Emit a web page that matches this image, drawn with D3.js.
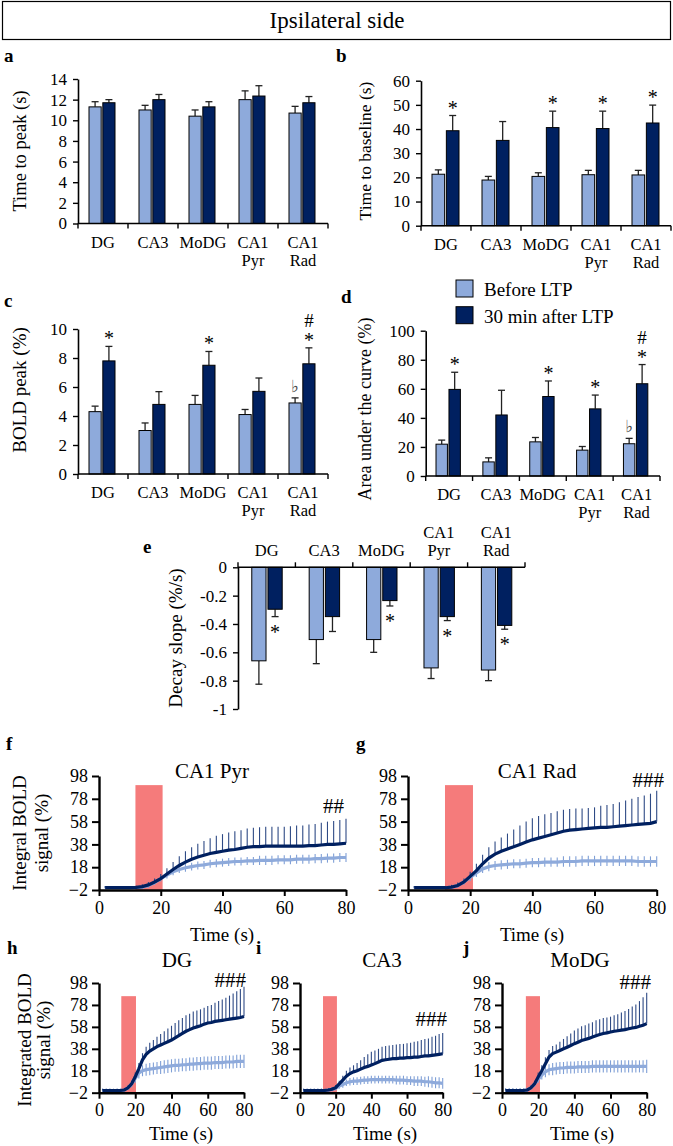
<!DOCTYPE html>
<html><head><meta charset="utf-8">
<script src="https://cdn.jsdelivr.net/npm/d3@7"></script>
<style>
body{margin:0;background:#fff}
svg{display:block}
text{font-family:"Liberation Serif","Times New Roman",serif;fill:#000}
</style>
</head><body>
<svg id="c" width="673" height="1146"></svg>
<script>
// ---------- DATA ----------
const categories = ["DG","CA3","MoDG","CA1 Pyr","CA1 Rad"];
const series = ["Before LTP","30 min after LTP"];

// a: time to peak (s)
const peakTimeBefore = [11.3,11.0,10.4,12.0,10.7];
const peakTimeBeforeErr = [0.5,0.45,0.6,0.85,0.65];
const peakTimeAfter = [11.7,12.0,11.3,12.35,11.7];
const peakTimeAfterErr = [0.3,0.5,0.5,1.0,0.6];
const peakTimeTicks = [0,2,4,6,8,10,12,14];

// b: time to baseline (s)
const baselineBefore = [21.3,18.9,20.4,21.1,21.0];
const baselineBeforeErr = [1.8,1.5,1.5,1.8,1.9];
const baselineAfter = [39.3,35.3,40.6,40.2,42.5];
const baselineAfterErr = [6.3,7.8,6.8,7.2,7.4];
const baselineTicks = [0,10,20,30,40,50,60];
const baselineStars = ["*","","*","*","*"];

// c: BOLD peak (%)
const boldPeakBefore = [4.3,3.0,4.8,4.1,4.9];
const boldPeakBeforeErr = [0.38,0.52,0.62,0.35,0.35];
const boldPeakAfter = [7.8,4.8,7.5,5.7,7.6];
const boldPeakAfterErr = [1.0,0.88,0.95,0.92,1.1];
const boldPeakTicks = [0,2,4,6,8,10];
const boldPeakStars = ["*","","*","","*"];
const boldPeakHash = ["","","","","#"];
const boldPeakFlat = ["","","","","\u266D"];

// d: area under the curve (%)
const aucBefore = [21.9,9.7,23.5,17.8,22.2];
const aucBeforeErr = [2.8,2.8,3.0,2.5,3.7];
const aucAfter = [59.6,42.0,54.7,46.2,63.5];
const aucAfterErr = [11.8,17.0,10.7,9.5,13.2];
const aucTicks = [0,20,40,60,80,100];
const aucStars = ["*","","*","*","*"];
const aucHash = ["","","","","#"];
const aucFlat = ["","","","","\u266D"];

// e: decay slope (%/s)
const decayBefore = [-0.66,-0.51,-0.51,-0.71,-0.725];
const decayBeforeErr = [0.165,0.17,0.09,0.075,0.075];
const decayAfter = [-0.296,-0.348,-0.235,-0.348,-0.41];
const decayAfterErr = [0.052,0.105,0.038,0.028,0.027];
const decayTicks = [0,-0.2,-0.4,-0.6,-0.8,-1];
const decayStars = ["*","","*","*","*"];

// time courses
const time = [2,4,6,8,10,12,14,16,18,20,22,24,26,28,30,32,34,36,38,40,42,44,46,48,50,52,54,56,58,60,62,64,66,68,70,72,74,76,78,80];
const timeTicks = [0,20,40,60,80];
const signalTicks = [-2,18,38,58,78,98];

const pyrAfter = [0,0,0,0,0,0.3,1,2.5,5,8,12,16,19.5,22.5,25,27,28.5,30,31,32,33,33.5,34.5,35.5,36,36,36.5,36.5,36.5,36.5,36.5,36.5,36.5,37,37,37.5,38,38,38.5,39];
const pyrAfterErr = [1.5,1.5,1.5,1.5,1.5,1.5,2,2.5,3,4,5,6.5,8,9.5,10.5,11.5,12.5,13.5,14.5,15,15.5,16,16,16.5,16.5,17,17,17,17,17,17.5,18,18,18.5,19,19.5,20,20.5,21,21.5];
const pyrBefore = [0,0,0,0,0,0,0.5,2,4.5,8,11,14,16,17.5,18.5,19.5,20,21,21.5,22,22.5,23,23,23.5,23.5,24,24,24,24.5,24.5,24.5,25,25,25,25.5,25.5,26,26,26.5,26.5];
const pyrBeforeErr = [1,1,1,1,1,1,1.5,2,2,2.5,3,3,3,3.5,3.5,3.5,3.5,3.5,3.5,3.5,3.5,3.5,3.5,3.5,3.5,4,4,4,4,4,4,4,4,4,4,4,4,4,4,4];

const radAfter = [0,0,0,0,0,0,0.5,2,5,10,15,21,26,29.5,32,34,36,38,40,42,43.5,45,46.5,48,49.5,50.5,51,51.5,52,52.5,53,53,53.5,54,54.5,55,55.5,56,56.5,58];
const radAfterErr = [1.5,1.5,1.5,1.5,1.5,1.5,2,2.5,3,4,6,8,9.5,11,12,13.5,15,16.5,18,19,19.5,19.5,19,19,19,18.5,18.5,18,18,18,19,19.5,20,21,22,23,24,25,26,27];
const radBefore = [0,0,0,0,0,0,0.5,2,5,9,13,16.5,18.5,19.5,20,20.5,21,21,21.5,22,22,22.5,22.5,22.5,23,23,23,23.5,23.5,23.5,23.5,23.5,23.5,23.5,23.5,23.5,23,23,23,23];
const radBeforeErr = [1,1,1,1,1,1,1.5,2,2.5,3,3.5,3.5,4,4,4,4,4,4,4,4,4,4,4,4,4.5,4.5,4.5,4.5,4.5,4.5,4.5,4.5,4.5,4.5,4.5,4.5,4.5,4.5,4.5,4.5];

const dgAfter = [0,0,0,0,0,0,0.5,2.5,6,12.5,20,28,33,36,38,40,41.5,43,44.5,46,48,50,52,54,55.5,57,58,59,60.5,61.5,62,63,63.5,64,64.5,65,65.5,66,66.5,67.5];
const dgAfterErr = [1.5,1.5,1.5,1.5,1.5,1.5,1.5,2,3,4,5,6,7,7.5,8,9,10,11,12,13,13.5,14,14,14.5,14.5,15,15,15,15,15.5,16,17,18,19,20,21.5,23,24.5,26,27];
const dgBefore = [0,0,0,0,0,0,0.5,2.5,6,11,16,18,19,19.5,20,20.5,21,21.5,22,22.5,23,23,23.5,23.5,24,24,24.5,24.5,25,25,25,25.5,25.5,25.5,26,26,26,26.5,26.5,26.5];
const dgBeforeErr = [1.5,1.5,1.5,1.5,1.5,1.5,1.5,2,3,4,5,5,5.5,5.5,5.5,5.5,6,6,6,6,6,6,6,6,6,6,6,6,6,6,6,6,6,6,6,6,6,6,6,6];

const ca3After = [0,0,0,0,0,0,0,0.5,1.2,2.6,6,9.5,13,15.5,17,18,19.5,21,22,23.3,24.5,26,27.5,28,28.5,29,29,29.5,29.5,30,30,30.5,30.5,31,31.5,31.5,32,32.5,33,33.5];
const ca3AfterErr = [1.5,1.5,1.5,1.5,1.5,1.5,1.5,1.5,2,2.5,3,4,5,5.5,6,7,8,9.5,11,12,12,12,12.5,12.5,12.5,12.5,13,13,13,13,13.5,14,14.5,15,15.5,16,17,17.5,18.5,19];
const ca3Before = [0,0,0,0,0,0,0,0.5,1,2,4,5.5,7,8,8.5,8.5,9,9.5,9.5,10,10,10,10,10,10,10,9.5,9.5,9.5,9,9,8.5,8.5,8.5,8,8,7.5,7,7,6.5];
const ca3BeforeErr = [1.5,1.5,1.5,1.5,1.5,1.5,1.5,1.5,2,2,2.5,3,3,3.5,3.5,3.5,3.5,3.5,3.5,3.5,3.5,3.5,3.5,3.5,3.5,3.5,4,4,4,4,4,4.5,4.5,4.5,4.5,5,5,5,5,5];

const modgAfter = [0,0,0,0,0,0,0.5,2.5,6,12.3,18,24.4,30.5,33.6,35,36.5,38,39.5,41,42.7,44,45.5,46.5,47.5,48.8,50,51,52,52.5,53.3,54,54.5,55,55.5,56.3,57,57.5,58.5,59.5,61];
const modgAfterErr = [1.5,1.5,1.5,1.5,1.5,1.5,1.5,2,3,4,5,6,6.5,7,7,8,9,10,11,12,12.5,13,13,13.5,13.5,14,14,14,14,14,14.5,15,16,17,18,19.5,21,23,25.5,28];
const modgBefore = [0,0,0,0,0,0,0.5,2.5,6,10,14,17,19,19.5,20,20.5,20.5,21,21,21,21.5,21.5,21.5,21.5,22,22,22,22,22,22,22,22,22,22,22,22,22,22,22,22];
const modgBeforeErr = [2,2,2,2,2,2,2,2,2.5,3,4,5,5,5.5,5.5,5.5,5.5,5.5,5.5,5.5,5.5,5.5,5.5,5.5,5.5,5.5,5.5,5.5,5.5,5.5,5.5,5.5,5.5,5.5,5.5,5.5,5.5,5.5,5.5,6];

// ---------- DRAWING ----------
const LIGHT = "#8eaadb", DARK = "#002060";
const svg = d3.select("#c");

svg.append("rect").attr("x",2.5).attr("y",1.5).attr("width",668).attr("height",38)
  .attr("fill","none").attr("stroke","#000").attr("stroke-width",1.2);
svg.append("text").attr("x",337).attr("y",28).attr("text-anchor","middle")
  .style("font-size","23px").text("Ipsilateral side");

function panelLetter(x,y,t){
  svg.append("text").attr("x",x).attr("y",y).style("font-size","19px").style("font-weight","bold").text(t);
}

function barPanel(o){
  const g = svg.append("g");
  const x0 = d3.scaleBand().domain(categories).range([o.left,o.right]);
  const bw = x0.bandwidth();
  const x1 = d3.scaleBand().domain(series).range([bw*o.b0, bw*o.b1]).paddingInner(0.12);
  const y = d3.scaleLinear().domain(o.domain).range(o.range);
  const vals = [o.before,o.after], errs = [o.beforeErr,o.afterErr];
  const fills = [LIGHT,DARK];
  const y0 = y(0);
  categories.forEach((c,i)=>{
    series.forEach((s,k)=>{
      const v = vals[k][i], e = errs[k][i];
      const bx = x0(c)+x1(s), w = x1.bandwidth();
      const sign = v>=0?1:-1;
      const ye = y(v+sign*e);
      const cx = bx+w/2;
      g.append("line").attr("x1",cx).attr("x2",cx).attr("y1",y(v)).attr("y2",ye).attr("stroke","#222").attr("stroke-width",1.3);
      g.append("line").attr("x1",cx-3.5).attr("x2",cx+3.5).attr("y1",ye).attr("y2",ye).attr("stroke","#222").attr("stroke-width",1.3);
      g.append("rect").attr("x",bx).attr("width",w)
        .attr("y",Math.min(y(v),y0)).attr("height",Math.abs(y(v)-y0))
        .attr("fill",fills[k]).attr("stroke","#000").attr("stroke-width",1);
    });
    const cxA = x0(c)+x1(series[1])+x1.bandwidth()/2;
    const cxB = x0(c)+x1(series[0])+x1.bandwidth()/2;
    const va = o.after[i], ea = o.afterErr[i];
    if(o.stars && o.stars[i]){
      if(va>=0){
        g.append("text").attr("x",cxA).attr("y",y(va+ea)-1).attr("text-anchor","middle").style("font-size","20px").text(o.stars[i]);
      } else {
        g.append("text").attr("x",cxA).attr("y",y(va-ea)+22).attr("text-anchor","middle").style("font-size","20px").text(o.stars[i]);
      }
    }
    if(o.hash && o.hash[i]){
      g.append("text").attr("x",cxA).attr("y",y(va+ea)-21).attr("text-anchor","middle").style("font-size","19px").text(o.hash[i]);
    }
    if(o.flat && o.flat[i]){
      const vb=o.before[i], eb=o.beforeErr[i];
      g.append("text").attr("x",cxB).attr("y",y(vb+eb)-6).attr("text-anchor","middle")
        .attr("fill","#4a4a4a").style("fill","#4a4a4a")
        .style("font-size","17px").style("font-family","DejaVu Serif").text(o.flat[i]);
    }
  });
  const ya = g.append("g").attr("transform",`translate(${o.left},0)`)
    .call(d3.axisLeft(y).tickValues(o.ticks).tickSize(5).tickSizeOuter(0).tickPadding(6).tickFormat(o.fmt||d3.format("d")));
  ya.select(".domain").attr("stroke-width",1.6);
  ya.selectAll(".tick line").attr("stroke-width",1.4);
  ya.selectAll("text").style("font-size","17px").style("font-family","Liberation Serif");
  g.append("line").attr("x1",o.left).attr("x2",o.right).attr("y1",y0).attr("y2",y0).attr("stroke","#000").attr("stroke-width",1.6);
  const bounds = categories.map(c=>x0(c)).concat([x0.range()[1]]);
  const td = o.labelsAbove ? -5 : 5;
  bounds.forEach(bx=>{
    g.append("line").attr("x1",bx).attr("x2",bx).attr("y1",y0).attr("y2",y0+td).attr("stroke","#000").attr("stroke-width",1.4);
  });
  categories.forEach(c=>{
    const parts = c.split(" ");
    const cx = x0(c)+bw/2;
    parts.forEach((p,j)=>{
      let yy;
      if(o.labelsAbove){ yy = y0 - 11 - (parts.length-1-j)*18; }
      else { yy = y0 + 24 + j*18; }
      g.append("text").attr("x",cx).attr("y",yy).attr("text-anchor","middle").style("font-size","16.5px").text(p);
    });
  });
  g.append("text").attr("transform",`translate(${o.titleX},${o.titleY}) rotate(-90)`)
    .attr("text-anchor","middle").style("font-size",o.titleFs+"px").text(o.title);
}

panelLetter(4,62,"a");
barPanel({left:78,right:328,b0:0.22,b1:0.74,domain:[0,14],range:[223.5,79],ticks:peakTimeTicks,
  before:peakTimeBefore,beforeErr:peakTimeBeforeErr,after:peakTimeAfter,afterErr:peakTimeAfterErr,
  title:"Time to peak (s)",titleX:26,titleY:151,titleFs:18.5});

panelLetter(336,62,"b");
barPanel({left:421,right:671,b0:0.22,b1:0.76,domain:[0,60],range:[225.7,80.7],ticks:baselineTicks,
  before:baselineBefore,beforeErr:baselineBeforeErr,after:baselineAfter,afterErr:baselineAfterErr,
  stars:baselineStars,title:"Time to baseline (s)",titleX:371,titleY:151,titleFs:17.5});

panelLetter(4,307,"c");
barPanel({left:78,right:328,b0:0.22,b1:0.74,domain:[0,10],range:[474,329],ticks:boldPeakTicks,
  before:boldPeakBefore,beforeErr:boldPeakBeforeErr,after:boldPeakAfter,afterErr:boldPeakAfterErr,
  stars:boldPeakStars,hash:boldPeakHash,flat:boldPeakFlat,title:"BOLD peak  (%)",titleX:26,titleY:390,titleFs:19});

panelLetter(341,303,"d");
barPanel({left:425.7,right:660,b0:0.22,b1:0.74,domain:[0,100],range:[476,330.7],ticks:aucTicks,
  before:aucBefore,beforeErr:aucBeforeErr,after:aucAfter,afterErr:aucAfterErr,
  stars:aucStars,hash:aucHash,flat:aucFlat,title:"Area under the curve  (%)",titleX:371,titleY:409,titleFs:18});

panelLetter(143,553,"e");
barPanel({left:238,right:525,b0:0.24,b1:0.77,domain:[-1,0],range:[709,567.3],ticks:decayTicks,
  fmt:d=>d===0?"0":(d===-1?"-1":d3.format(".1f")(d).replace("\u2212","-")),
  before:decayBefore,beforeErr:decayBeforeErr,after:decayAfter,afterErr:decayAfterErr,
  stars:decayStars,labelsAbove:true,title:"Decay slope (%/s)",titleX:182,titleY:638,titleFs:19});

// legend
const legend = svg.append("g");
series.forEach((s,k)=>{
  legend.append("rect").attr("x",456).attr("y",280+k*26.7).attr("width",17).attr("height",17)
    .attr("fill",[LIGHT,DARK][k]).attr("stroke","#000").attr("stroke-width",1);
  legend.append("text").attr("x",484).attr("y",296+k*26.7).style("font-size","19px").text(s);
});

function timePanel(o){
  const g = svg.append("g");
  const x = d3.scaleLinear().domain([0,80]).range([o.left,o.right]);
  const y = d3.scaleLinear().domain([-2,98]).range([o.bottom,o.top]);
  g.append("rect").attr("x",x(o.stim[0])).attr("width",x(o.stim[1])-x(o.stim[0]))
    .attr("y",y(o.stim[2])).attr("height",y(-2)-y(o.stim[2])).attr("fill","#f57b7b");
  time.forEach((t,i)=>{
    g.append("line").attr("x1",x(t)).attr("x2",x(t)).attr("y1",y(o.before[i]-o.beforeErr[i])).attr("y2",y(o.before[i]+o.beforeErr[i]))
      .attr("stroke","#7f9fd6").attr("stroke-width",1.1);
  });
  const line = d3.line().x((d,i)=>x(time[i])).y(d=>y(d));
  g.append("path").datum(o.before).attr("d",line).attr("fill","none").attr("stroke",LIGHT).attr("stroke-width",3.2);
  time.forEach((t,i)=>{
    g.append("line").attr("x1",x(t)).attr("x2",x(t)).attr("y1",y(o.after[i])).attr("y2",y(o.after[i]+o.afterErr[i]))
      .attr("stroke","#2e4a85").attr("stroke-width",1.1);
  });
  g.append("path").datum(o.after).attr("d",line).attr("fill","none").attr("stroke",DARK).attr("stroke-width",3.2);
  const ya = g.append("g").attr("transform",`translate(${o.left},0)`)
    .call(d3.axisLeft(y).tickValues(signalTicks).tickSize(7).tickSizeOuter(0).tickPadding(4));
  const xa = g.append("g").attr("transform",`translate(0,${o.bottom})`)
    .call(d3.axisBottom(x).tickValues(timeTicks).tickSize(6).tickSizeOuter(0).tickPadding(5));
  [ya,xa].forEach(a=>{
    a.select(".domain").attr("stroke-width",2.4);
    a.selectAll(".tick line").attr("stroke-width",2);
    a.selectAll("text").style("font-size",o.fs+"px").style("font-family","Liberation Serif");
  });
  g.append("text").attr("x",o.titlePos[0]).attr("y",o.titlePos[1]).attr("text-anchor","middle").style("font-size","21px").text(o.title);
  g.append("text").attr("x",o.hashPos[0]).attr("y",o.hashPos[1]).attr("text-anchor","end").style("font-size","21px").text(o.hash);
  g.append("text").attr("x",o.xTitle[0]).attr("y",o.xTitle[1]).attr("text-anchor","middle").style("font-size","19px").text("Time (s)");
  if(o.yTitle){
    o.yTitle.lines.forEach((t,j)=>{
      g.append("text").attr("transform",`translate(${o.yTitle.x[j]},${o.yTitle.cy}) rotate(-90)`)
        .attr("text-anchor","middle").style("font-size","19px").text(t);
    });
  }
}

panelLetter(6,750,"f");
timePanel({left:99,right:346,top:776,bottom:890,stim:[11.8,20.6,90],fs:18,
  before:pyrBefore,beforeErr:pyrBeforeErr,after:pyrAfter,afterErr:pyrAfterErr,
  title:"CA1 Pyr",titlePos:[212,778],hash:"##",hashPos:[344,813],xTitle:[222,941],
  yTitle:{lines:["Integral BOLD","signal  (%)"],x:[26,48],cy:833}});

panelLetter(356,750,"g");
timePanel({left:408,right:656.7,top:776,bottom:890,stim:[11.9,20.9,90],fs:18,
  before:radBefore,beforeErr:radBeforeErr,after:radAfter,afterErr:radAfterErr,
  title:"CA1 Rad",titlePos:[537,778],hash:"###",hashPos:[664,787],xTitle:[532,941]});

panelLetter(7,954,"h");
timePanel({left:99,right:244,top:983,bottom:1092.7,stim:[12.3,20.4,86],fs:18,
  before:dgBefore,beforeErr:dgBeforeErr,after:dgAfter,afterErr:dgAfterErr,
  title:"DG",titlePos:[177,967],hash:"###",hashPos:[246,987],xTitle:[181,1140],
  yTitle:{lines:["Integrated BOLD","signal  (%)"],x:[31,50],cy:1040}});

panelLetter(256,954,"i");
timePanel({left:300,right:442.7,top:983,bottom:1092.7,stim:[12.9,20.7,86],fs:18,
  before:ca3Before,beforeErr:ca3BeforeErr,after:ca3After,afterErr:ca3AfterErr,
  title:"CA3",titlePos:[382,967],hash:"###",hashPos:[447,1026],xTitle:[385,1140]});

panelLetter(463,954,"j");
timePanel({left:502,right:646.7,top:983,bottom:1092.7,stim:[13.2,21,86],fs:18,
  before:modgBefore,beforeErr:modgBeforeErr,after:modgAfter,afterErr:modgAfterErr,
  title:"MoDG",titlePos:[580,967],hash:"###",hashPos:[651,989],xTitle:[582,1140]});
</script>
</body></html>
